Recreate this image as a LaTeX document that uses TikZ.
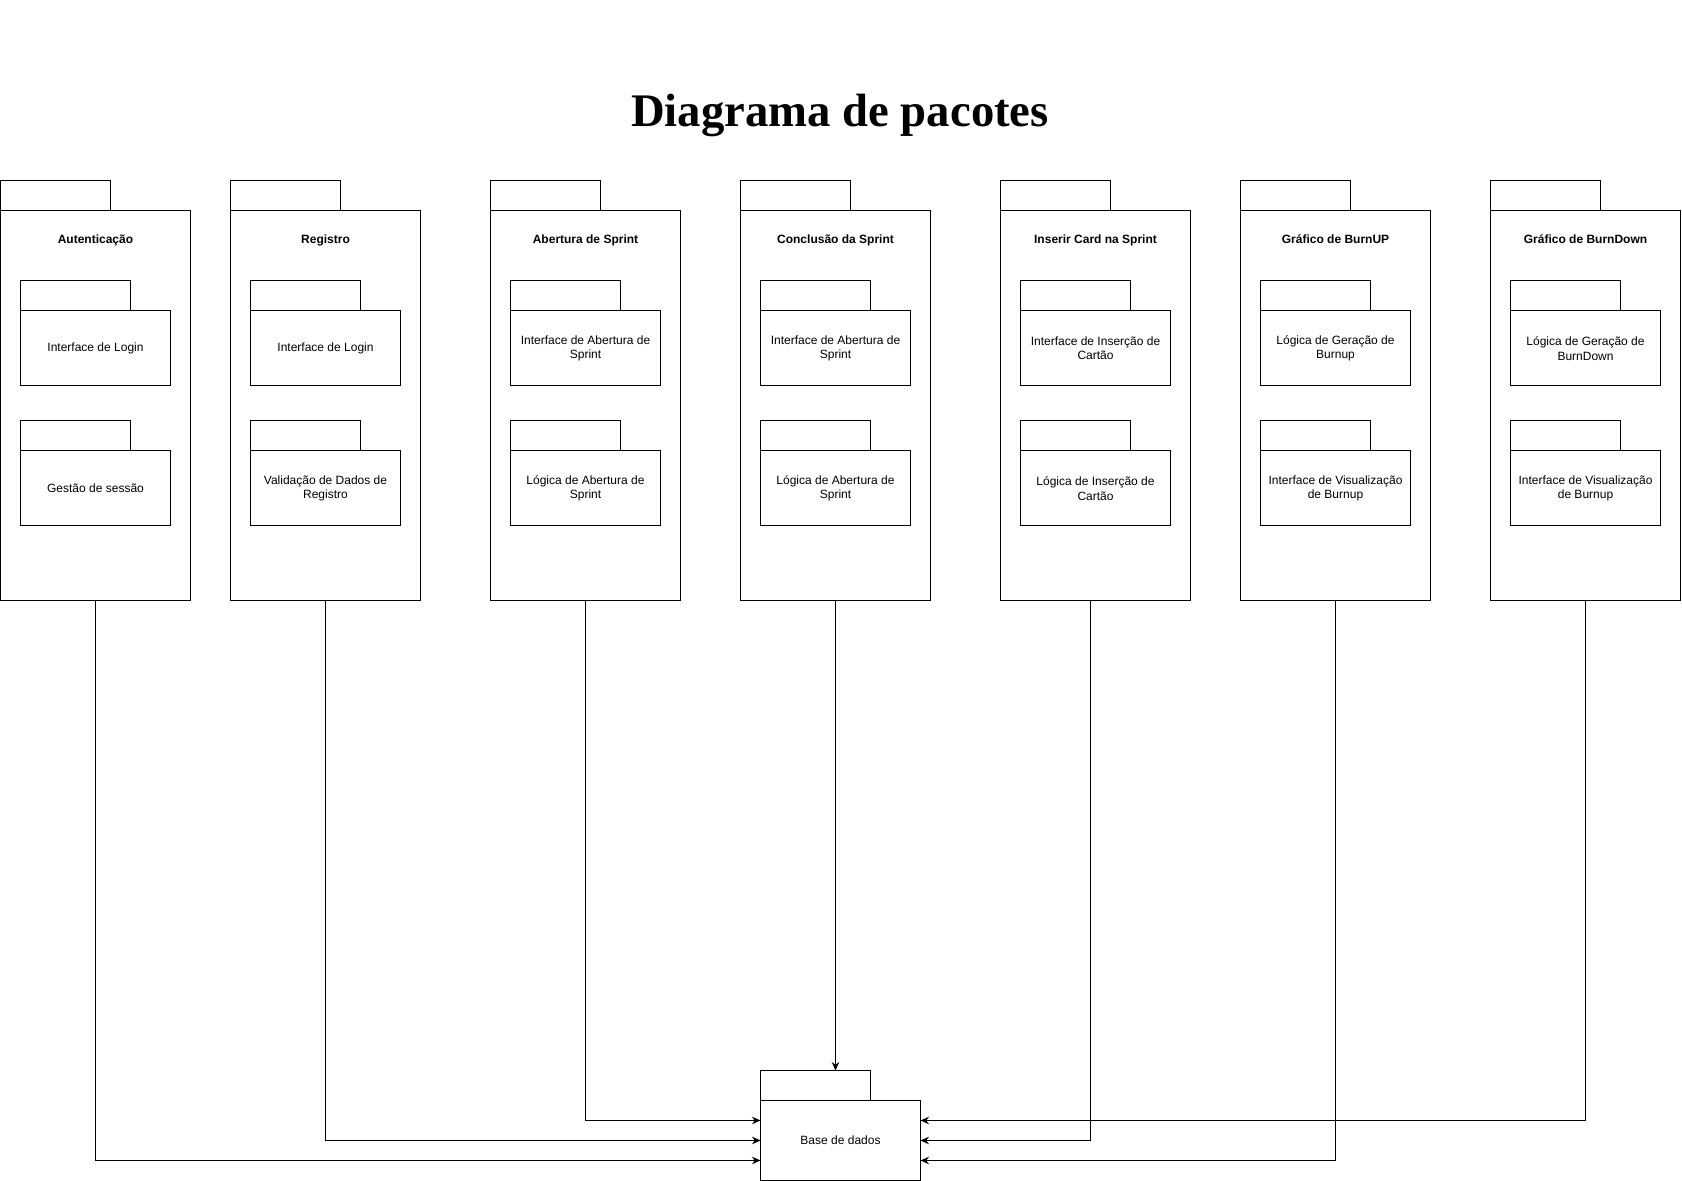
\documentclass[tikz,border=0pt]{standalone}
\usepackage{fontspec}
\setmainfont{Liberation Sans}
\newfontfamily\titlefont{Liberation Serif}
\usetikzlibrary{arrows.meta}

% one package: name, left edge, title, first inner package, second inner package
\newcommand{\umlpackage}[5]{%
  \node[pkgbody, anchor=north west] (#1) at (#2,970) {};
  \node[pkgtab, anchor=south west] (#1tab) at (#1.north west) {};
  \node[pkgtitle] (#1title) at ([yshift=-30pt]#1.north) {#3};
  \node[innerbody, anchor=north west] (#1a) at ([shift={(20pt,-100pt)}]#1.north west) {#4};
  \node[pkgtab, anchor=south west] (#1atab) at (#1a.north west) {};
  \node[innerbody, anchor=north west] (#1b) at ([shift={(20pt,-240pt)}]#1.north west) {#5};
  \node[pkgtab, anchor=south west] (#1btab) at (#1b.north west) {};
}

\begin{document}
\begin{tikzpicture}[x=1pt, y=1pt,
  line width=1pt,
  pkgbody/.style={draw, minimum width=190pt, minimum height=390pt, inner sep=0pt, outer sep=0pt},
  pkgtab/.style={draw, minimum width=110pt, minimum height=30pt, inner sep=0pt, outer sep=0pt},
  pkgtitle/.style={font=\fontsize{12}{14.4}\selectfont\bfseries, inner sep=0pt,
    text height=9pt, text depth=3pt},
  innerbody/.style={draw, minimum width=150pt, minimum height=75pt, inner sep=0pt, outer sep=0pt,
    align=center, font=\fontsize{12}{14.4}\selectfont},
  dep/.style={draw, -{Stealth[length=8.5pt, width=7.5pt]}}]

\useasboundingbox (0,0) rectangle (1682,1181);

\node[anchor=base, font=\titlefont\fontsize{46.7}{56}\selectfont\bfseries] (title) at (840,1054) {Diagrama de pacotes};

\umlpackage{p1}{0.5}{Autenticação}{Interface de Login}{Gestão de sessão}
\umlpackage{p2}{230.5}{Registro}{Interface de Login}{Validação de Dados de\\Registro}
\umlpackage{p3}{490.5}{Abertura de Sprint}{Interface de Abertura de\\Sprint}{Lógica de Abertura de\\Sprint}
\umlpackage{p4}{740.5}{Conclusão da Sprint}{Interface de Abertura de\\Sprint}{Lógica de Abertura de\\Sprint}
\umlpackage{p5}{1000.5}{Inserir Card na Sprint}{Interface de Inserção de\\Cartão}{Lógica de Inserção de\\Cartão}
\umlpackage{p6}{1240.5}{Gráfico de BurnUP}{Lógica de Geração de\\Burnup}{Interface de Visualização\\de Burnup}
\umlpackage{p7}{1490.5}{Gráfico de BurnDown}{Lógica de Geração de\\BurnDown}{Interface de Visualização\\de Burnup}

% database package
\node[innerbody, minimum width=160pt, minimum height=80pt, anchor=south west] (base) at (760.5,0.5) {Base de dados};
\node[pkgtab, anchor=south west] (basetab) at (base.north west) {};

% dependencies
\draw[dep] (p1.south) |- ([yshift=-20pt]base.west);
\draw[dep] (p2.south) |- (base.west);
\draw[dep] (p3.south) |- ([yshift=20pt]base.west);
\draw[dep] (p4.south) -- (p4.south |- basetab.north);
\draw[dep] ([xshift=-5pt]p5.south) |- (base.east);
\draw[dep] (p6.south) |- ([yshift=-20pt]base.east);
\draw[dep] (p7.south) |- ([yshift=20pt]base.east);
\end{tikzpicture}
\end{document}
